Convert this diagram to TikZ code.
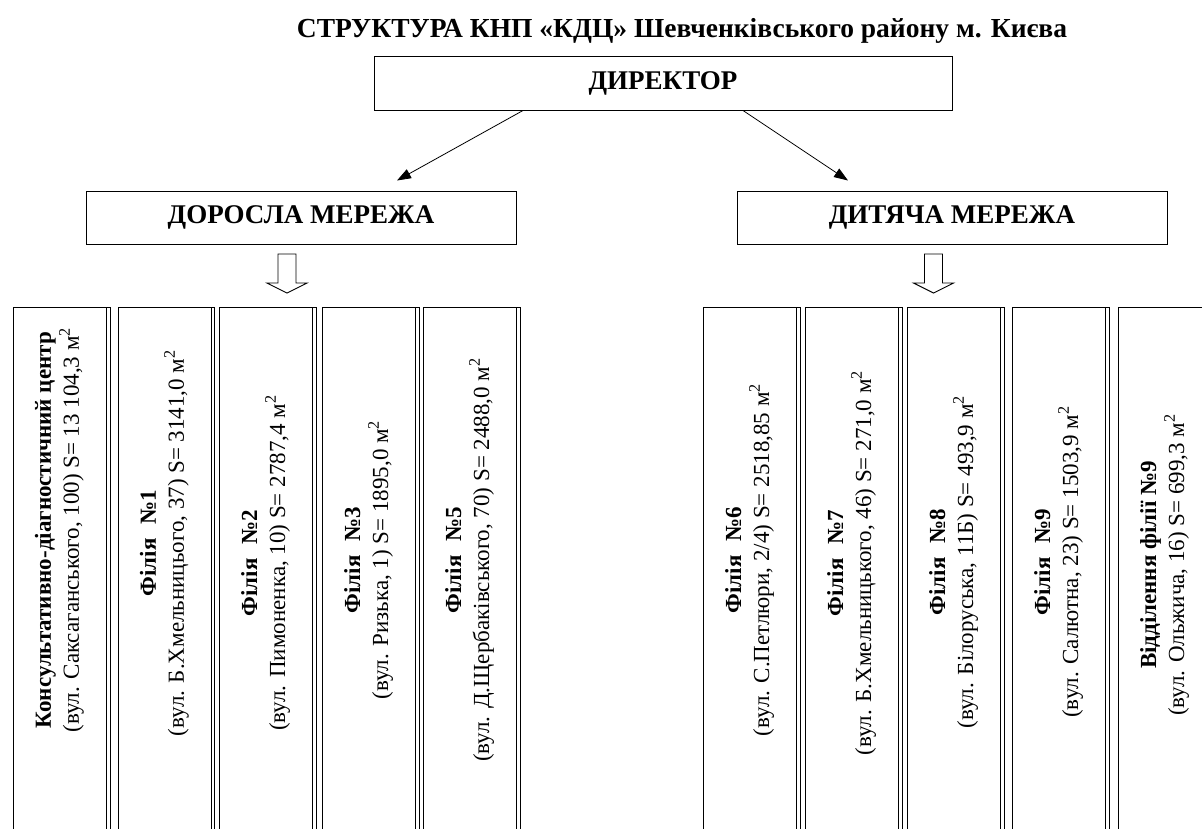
\documentclass[tikz,border=0pt]{standalone}
\usepackage{fontspec}
\setmainfont{Liberation Serif}
\usetikzlibrary{positioning,arrows.meta}

\newcommand{\filia}[1]{\textbf{Філія\hspace{0.6em}№#1}}

\begin{document}
\begin{tikzpicture}[x=1pt,y=-1pt,
  every node/.style={font=\fontsize{23}{28}\selectfont},
  head/.style={draw,line width=1pt,inner sep=0pt,minimum height=54pt,
    font=\fontsize{27}{30}\selectfont\bfseries},
  branch/.style={draw,line width=1pt,anchor=north west,inner sep=0pt,
    minimum width=93pt,minimum height=545pt},
  edge/.style={line width=0.6pt},
  coltext/.style={rotate=90,align=center,inner sep=0pt},
  link/.style={-{Triangle[length=14pt,width=10pt]},line width=0.8pt},
  downarrow/.pic={\draw[line width=0.9pt,fill=white] (-9,0) -- (9,0) -- (9,29)
    -- (20,29) -- (0,39) -- (-20,29) -- (-9,29) -- cycle;}]
\useasboundingbox (0,0) rectangle (1202,828);
\node[anchor=base,font=\fontsize{27.5}{30}\selectfont\bfseries] (title) at (682,37)
  {СТРУКТУРА КНП «КДЦ» Шевченківського району м. Києва};
\node[head,minimum width=578pt] (dir) at (663,83) {ДИРЕКТОР};
\node[head,minimum width=430pt,minimum height=53pt] (adult) at (301,217.5) {ДОРОСЛА МЕРЕЖА};
\node[head,minimum width=430pt,minimum height=53pt] (kids) at (952,217.5) {ДИТЯЧА МЕРЕЖА};
\draw[link] ([xshift=-140pt]dir.south) -- ([xshift=96pt,yshift=10pt]adult.north);
\draw[link] ([xshift=80pt]dir.south) -- ([xshift=-104pt,yshift=10pt]kids.north);
\pic at (287,254) {downarrow};
\pic at (933.5,254) {downarrow};
\node[branch] (c1) at (13,307) {};
\node[branch] (c2) at (118,307) {};
\node[branch] (c3) at (219,307) {};
\node[branch] (c4) at (322,307) {};
\node[branch] (c5) at (423,307) {};
\node[branch] (c6) at (703,307) {};
\node[branch] (c7) at (805,307) {};
\node[branch] (c8) at (907,307) {};
\node[branch] (c9) at (1012,307) {};
\node[branch] (c10) at (1118,307) {};
\draw[edge] (c1.north east) -- ++(3,0) |- (c1.south east);
\draw[edge] (c2.north east) -- ++(2,0) |- (c2.south east);
\draw[edge] (c3.north east) -- ++(3,0) |- (c3.south east);
\draw[edge] (c4.north east) -- ++(3,0) |- (c4.south east);
\draw[edge] (c5.north east) -- ++(3,0) |- (c5.south east);
\draw[edge] (c6.north east) -- ++(3,0) |- (c6.south east);
\draw[edge] (c7.north east) -- ++(3,0) |- (c7.south east);
\draw[edge] (c8.north east) -- ++(3,0) |- (c8.south east);
\draw[edge] (c9.north east) -- ++(3,0) |- (c9.south east);
\node[coltext] (t1) at (59.5,530) {\textbf{Консультативно-діагностичний центр}\\
  (вул. Саксаганського, 100) S= 13 104,3 м\textsuperscript{2}};
\node[coltext] (t2) at (164.5,543) {\filia{1}\\
  (вул. Б.Хмельницього, 37) S= 3141,0 м\textsuperscript{2}};
\node[coltext] (t3) at (265.5,563) {\filia{2}\\
  (вул. Пимоненка, 10) S= 2787,4 м\textsuperscript{2}};
\node[coltext] (t4) at (368.5,560) {\filia{3}\\
  (вул. Ризька, 1) S= 1895,0 м\textsuperscript{2}};
\node[coltext] (t5) at (469.5,560) {\filia{5}\\
  (вул. Д.Щербаківського, 70) S= 2488,0 м\textsuperscript{2}};
\node[coltext] (t6) at (749.5,560) {\filia{6}\\
  (вул. С.Петлюри, 2/4) S= 2518,85 м\textsuperscript{2}};
\node[coltext] (t7) at (851.5,563) {\filia{7}\\
  (вул. Б.Хмельницького, 46) S= 271,0 м\textsuperscript{2}};
\node[coltext] (t8) at (953.5,562) {\filia{8}\\
  (вул. Білоруська, 11Б) S= 493,9 м\textsuperscript{2}};
\node[coltext] (t9) at (1058.5,562) {\filia{9}\\
  (вул. Салютна, 23) S= 1503,9 м\textsuperscript{2}};
\node[coltext] (t10) at (1164.5,565) {\textbf{Відділення філії №9}\\
  (вул. Ольжича, 16) S= 699,3 м\textsuperscript{2}};
\end{tikzpicture}
\end{document}
